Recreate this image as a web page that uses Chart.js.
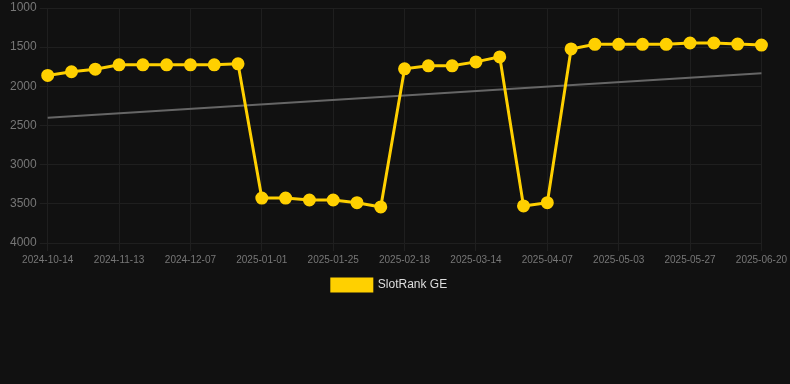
<!DOCTYPE html>
<html>
<head>
<meta charset="utf-8">
<script src="https://cdn.jsdelivr.net/npm/chart.js@4"></script>
<style>
  html, body { margin: 0; padding: 0; background: #111111; }
  #wrap { width: 790px; height: 384px; position: relative; }
</style>
</head>
<body>
<div id="wrap"><canvas id="c"></canvas></div>
<script>
const categories = [
  "2024-10-14","2024-10-24","2024-11-03","2024-11-13","2024-11-21","2024-11-29",
  "2024-12-07","2024-12-15","2024-12-23","2025-01-01","2025-01-09","2025-01-17",
  "2025-01-25","2025-02-02","2025-02-10","2025-02-18","2025-02-26","2025-03-06",
  "2025-03-14","2025-03-22","2025-03-30","2025-04-07","2025-04-16","2025-04-25",
  "2025-05-03","2025-05-11","2025-05-19","2025-05-27","2025-06-04","2025-06-12",
  "2025-06-20"
];
const rankValues = [
  1861, 1814, 1781, 1726, 1726, 1726, 1726, 1726, 1713,
  3426, 3426, 3451, 3451, 3485, 3540,
  1776, 1738, 1738, 1688, 1624,
  3527, 3485,
  1523, 1464, 1464, 1464, 1464, 1447, 1447, 1460, 1473
];
const trendValues = [
  2401, null, null, null, null, null, null, null, null, null, null,
  null, null, null, null, null, null, null, null, null, null,
  null, null, null, null, null, null, null, null, null, 1832
];
const yTicks = [1000, 1500, 2000, 2500, 3000, 3500, 4000];

const GRID = '#1f1f1f';

new Chart(document.getElementById('c'), {
  type: 'line',
  data: {
    labels: categories,
    datasets: [
      {
        label: 'SlotRank GE',
        data: rankValues,
        borderColor: '#ffd000',
        backgroundColor: '#ffd000',
        borderWidth: 3,
        pointRadius: 5,
        pointHoverRadius: 5,
        pointBackgroundColor: '#ffd000',
        pointBorderColor: '#ffd000',
        tension: 0
      },
      {
        label: 'trend',
        data: trendValues,
        spanGaps: true,
        borderColor: '#666666',
        borderWidth: 2,
        pointRadius: 0,
        fill: false
      }
    ]
  },
  options: {
    responsive: true,
    maintainAspectRatio: false,
    animation: false,
    layout: { padding: { left: 7, top: 0, right: 18, bottom: 83 } },
    scales: {
      x: {
        grid: {
          color: function(ctx) { return (ctx.index % 3 === 0) ? GRID : 'rgba(0,0,0,0)'; },
          tickColor: function(ctx) { return (ctx.index % 3 === 0) ? GRID : 'rgba(0,0,0,0)'; }
        },
        border: { color: GRID },
        ticks: {
          color: '#777777',
          font: { family: 'Liberation Sans, Arial, sans-serif', size: 10 },
          autoSkip: false,
          maxRotation: 0,
          callback: function(v, i) { return i % 3 === 0 ? categories[i] : ''; }
        }
      },
      y: {
        reverse: true,
        min: 1000,
        max: 4000,
        afterBuildTicks: function(ax) { ax.ticks = yTicks.map(v => ({ value: v })); },
        grid: { color: GRID, tickColor: GRID },
        border: { color: GRID },
        ticks: {
          color: '#777777',
          font: { family: 'Liberation Sans, Arial, sans-serif', size: 12, lineHeight: 0.67 },
          callback: function(v) { return String(v); }
        }
      }
    },
    plugins: {
      legend: {
        position: 'bottom',
        labels: {
          color: '#dddddd',
          boxWidth: 40,
          boxHeight: 12,
          font: { family: 'Liberation Sans, Arial, sans-serif', size: 12 },
          filter: function(item) { return item.text !== 'trend'; }
        }
      },
      tooltip: { enabled: false }
    }
  }
});
</script>
</body>
</html>
